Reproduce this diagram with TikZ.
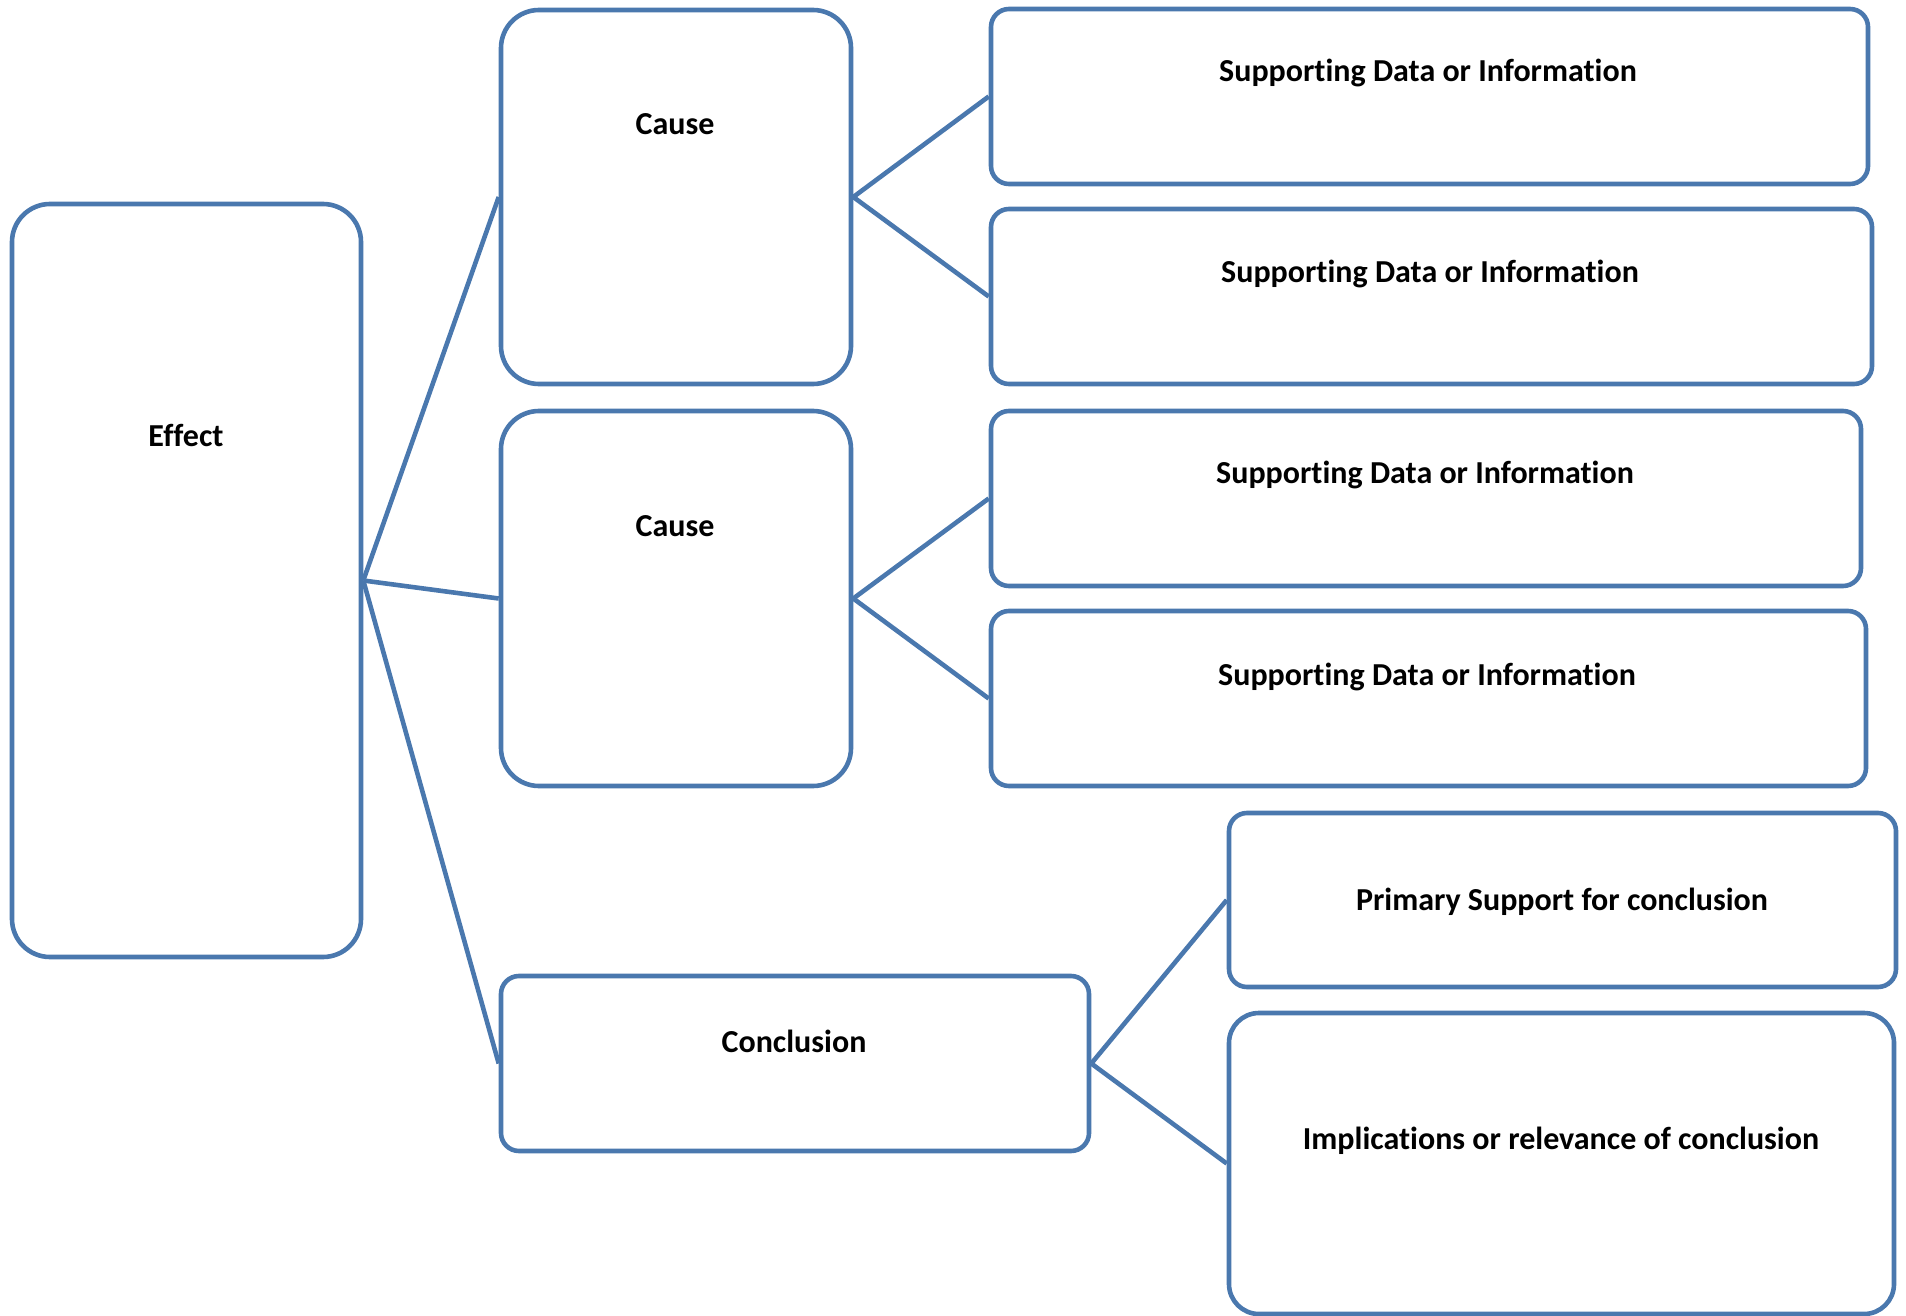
\documentclass[tikz,border=0pt]{standalone}
\usepackage{fontspec}
\setmainfont{Carlito}[Ligatures={NoCommon}]
\definecolor{boxblue}{RGB}{74,120,174}
\begin{document}
\begin{tikzpicture}[x=1pt,y=-1pt,
  box/.style={draw=boxblue,line width=4.6pt,fill=white,inner sep=0pt,rectangle},
  bigbox/.style={box,rounded corners=38pt},
  smallbox/.style={box,rounded corners=18pt},
  lbl/.style={font=\fontsize{32}{36}\selectfont\bfseries,inner sep=0pt,anchor=center},
  conn/.style={draw=boxblue,line width=4.6pt,line join=round}]
\useasboundingbox (0,0) rectangle (1906,1316);
% boxes
\node[bigbox,minimum width=349pt,minimum height=753pt] (effect) at (186.5,580.5) {};
\node[bigbox,minimum width=350pt,minimum height=374pt] (cause1) at (676,197) {};
\node[bigbox,minimum width=350pt,minimum height=375pt] (cause2) at (676,598.5) {};
\node[smallbox,minimum width=588pt,minimum height=175pt] (concl) at (795,1063.5) {};
\node[smallbox,minimum width=877pt,minimum height=175pt] (sd1) at (1429.5,96.5) {};
\node[smallbox,minimum width=881pt,minimum height=175pt] (sd2) at (1431.5,296.5) {};
\node[smallbox,minimum width=870pt,minimum height=175pt] (sd3) at (1426,498.5) {};
\node[smallbox,minimum width=875pt,minimum height=175pt] (sd4) at (1428.5,698.5) {};
\node[smallbox,minimum width=667pt,minimum height=174pt] (prim) at (1562.5,900) {};
\node[box,rounded corners=30pt,minimum width=665pt,minimum height=301pt] (impl) at (1561.5,1163.5) {};
% labels
\node[lbl] (teffect) at (186,435) {Effect};
\node[lbl] (tcause1) at (675,124) {Cause};
\node[lbl] (tcause2) at (675,526) {Cause};
\node[lbl] (tconcl) at (794,1041) {Conclusion};
\node[lbl] (tsd1) at (1428,73) {Supporting Data or Information};
\node[lbl] (tsd2) at (1430,274) {Supporting Data or Information};
\node[lbl] (tsd3) at (1425,475) {Supporting Data or Information};
\node[lbl] (tsd4) at (1427,677) {Supporting Data or Information};
\node[lbl] (tprim) at (1562,902) {Primary Support for conclusion};
\node[lbl] (timpl) at (1561,1141) {Implications or relevance of conclusion};
% connectors
\draw[conn] (effect.east) -- (cause1.west);
\draw[conn] (effect.east) -- (cause2.west);
\draw[conn] (effect.east) -- (concl.west);
\draw[conn] (cause1.east) -- (sd1.west);
\draw[conn] (cause1.east) -- (sd2.west);
\draw[conn] (cause2.east) -- (sd3.west);
\draw[conn] (cause2.east) -- (sd4.west);
\draw[conn] (concl.east) -- (prim.west);
\draw[conn] (concl.east) -- (impl.west);
\end{tikzpicture}
\end{document}
